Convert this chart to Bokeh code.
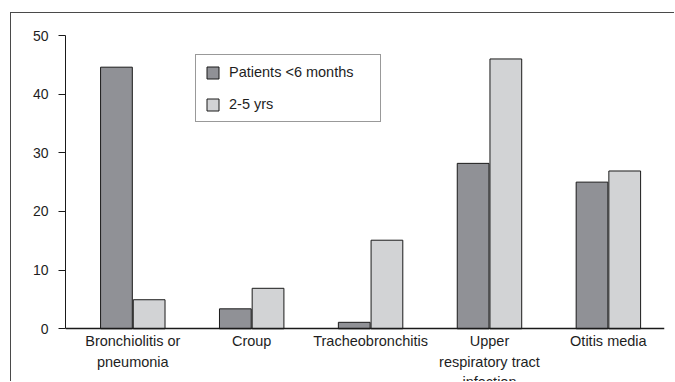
from bokeh.plotting import figure
from bokeh.models import Range1d, FixedTicker, Legend, LegendItem, ColumnDataSource
from bokeh.transform import dodge
from bokeh.embed import file_html
from bokeh.resources import INLINE

categories = ["Bronchiolitis or\npneumonia", "Croup", "Tracheobronchitis",
              "Upper\nrespiratory tract\ninfection", "Otitis media"]
under_6_months = [44.6, 3.4, 1.1, 28.2, 25.0]
age_2_5_yrs = [4.95, 6.9, 15.1, 46.0, 26.9]
series_names = ["Patients <6 months", "2-5 yrs"]
y_ticks = [0, 10, 20, 30, 40, 50]

FONT = "Liberation Sans"
TEXT = "#1e1e1e"
LINE = "#1a1a1a"
DARK = "#909196"
LIGHT = "#d2d3d5"

idx = list(range(len(categories)))
src = ColumnDataSource(dict(x=idx, a=under_6_months, b=age_2_5_yrs))

p = figure(width=664, height=369,
           x_range=Range1d(-0.566, 4.472), y_range=Range1d(-9.16, 50),
           output_backend="svg", toolbar_location=None,
           min_border_left=54, min_border_right=11,
           min_border_top=22, min_border_bottom=0)
p.styles = {"border-left": "1px solid #4a4a4a", "border-top": "1px solid #4a4a4a",
            "margin-left": "10px", "margin-top": "12px"}
p.outline_line_color = None
p.xgrid.visible = False
p.ygrid.visible = False

bw = 0.267
r1 = p.vbar(x=dodge("x", -0.1375, range=p.x_range), top="a", bottom=0, width=bw,
            source=src, fill_color=DARK, line_color=LINE, line_width=1)
r2 = p.vbar(x=dodge("x", 0.1375, range=p.x_range), top="b", bottom=0, width=bw,
            source=src, fill_color=LIGHT, line_color=LINE, line_width=1)

# y axis
ya = p.yaxis[0]
ya.ticker = FixedTicker(ticks=y_ticks)
ya.bounds = (0, 50)
ya.axis_line_color = LINE
ya.major_tick_line_color = LINE
ya.major_tick_out = 7
ya.major_tick_in = 0
ya.minor_tick_line_color = None
ya.major_label_standoff = 10
ya.major_label_text_font = FONT
ya.major_label_text_font_size = "14px"
ya.major_label_text_color = TEXT

# x axis
xa = p.xaxis[0]
xa.fixed_location = 0
xa.ticker = FixedTicker(ticks=idx)
xa.major_label_overrides = {i: c for i, c in zip(idx, categories)}
xa.axis_line_color = LINE
xa.axis_line_width = 1.3
xa.major_tick_line_color = None
xa.minor_tick_line_color = None
xa.major_label_standoff = -2
xa.major_label_text_font = FONT
xa.major_label_text_font_size = "14.5px"
xa.major_label_text_color = TEXT
xa.major_label_text_line_height = 1.3

legend = Legend(items=[LegendItem(label=series_names[0], renderers=[r1]),
                       LegendItem(label=series_names[1], renderers=[r2])],
                location=(130, 260), orientation="vertical",
                padding=9, spacing=16, margin=0,
                glyph_width=15, glyph_height=15, label_height=15,
                label_width=142, label_standoff=9,
                label_text_font=FONT, label_text_font_size="14.5px",
                label_text_color=TEXT, label_text_line_height=1.0,
                border_line_color="#333333", border_line_width=1,
                background_fill_color="white", background_fill_alpha=1.0)
p.add_layout(legend)

open("out.html", "w").write(file_html(p, INLINE))
